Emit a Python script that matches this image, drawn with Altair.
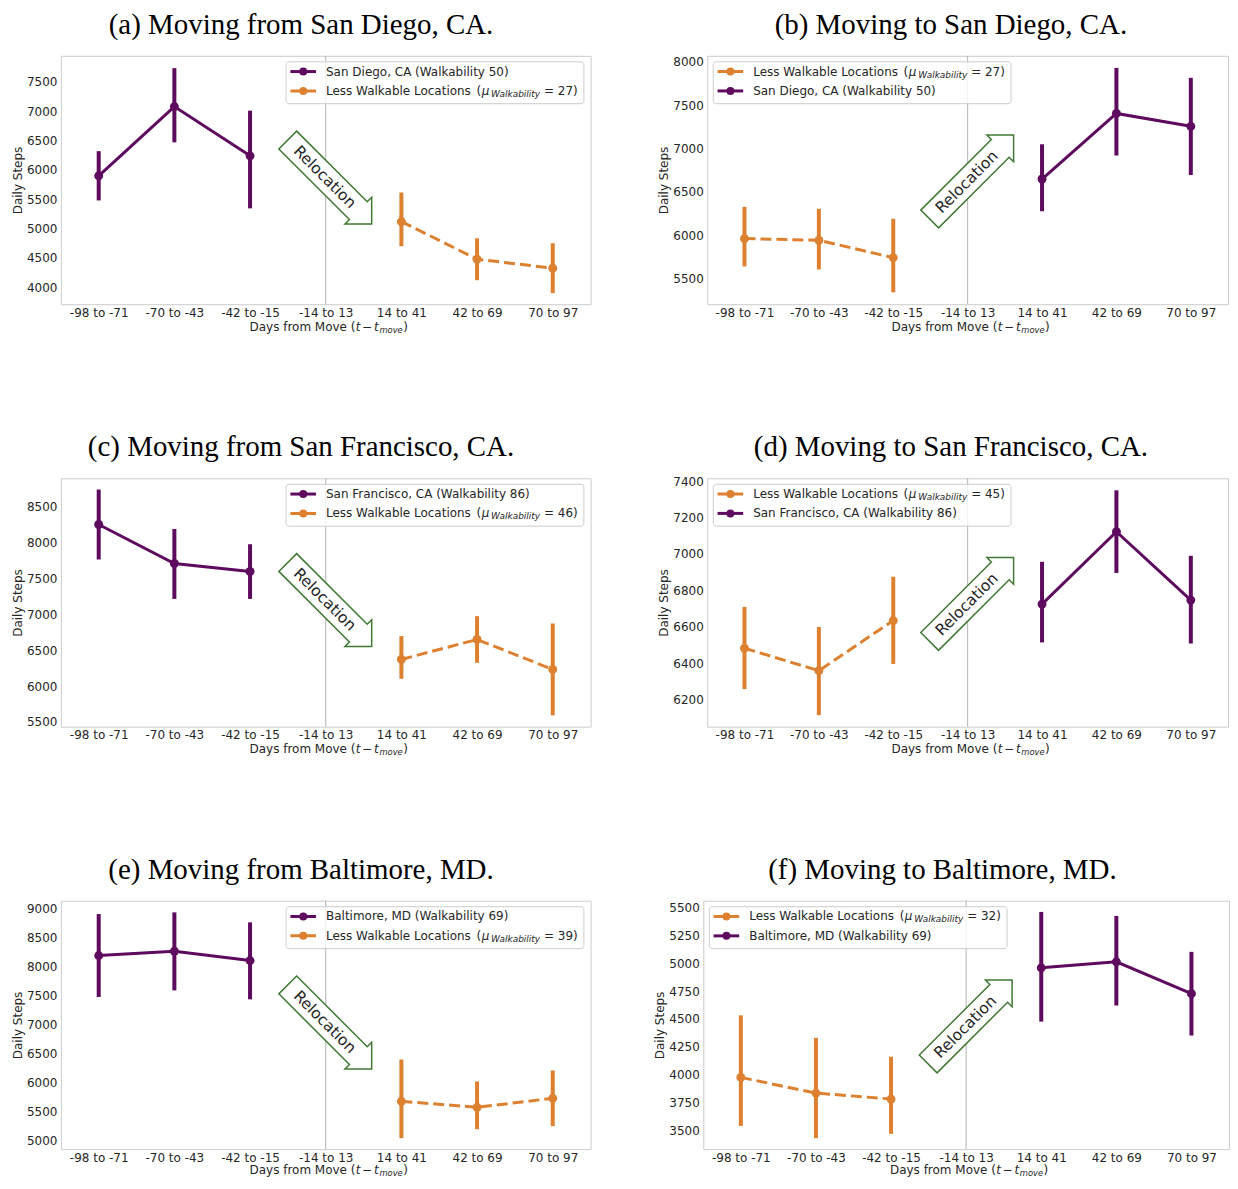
import altair as alt
import pandas as pd

CATS = ["-98 to -71", "-70 to -43", "-42 to -15", "-14 to 13", "14 to 41", "42 to 69", "70 to 97"]
BEFORE = CATS[:3]
AFTER = CATS[4:]

TITLES = [
    "(a) Moving from San Diego, CA.",
    "(b) Moving to San Diego, CA.",
    "(c) Moving from San Francisco, CA.",
    "(d) Moving to San Francisco, CA.",
    "(e) Moving from Baltimore, MD.",
    "(f) Moving to Baltimore, MD.",
]
CITY_LABELS = [
    "San Diego, CA (Walkability 50)",
    "San Francisco, CA (Walkability 86)",
    "Baltimore, MD (Walkability 69)",
]
MU = [27, 27, 46, 45, 39, 32]

# (a) from San Diego
A_CITY_MEAN = [5900, 7080, 6240]
A_CITY_LO = [5480, 6470, 5345]
A_CITY_HI = [6320, 7735, 7010]
A_LESS_MEAN = [5120, 4478, 4325]
A_LESS_LO = [4700, 4120, 3900]
A_LESS_HI = [5615, 4834, 4750]
# (b) to San Diego
B_LESS_MEAN = [5960, 5940, 5740]
B_LESS_LO = [5638, 5603, 5339]
B_LESS_HI = [6326, 6303, 6188]
B_CITY_MEAN = [6647, 7404, 7255]
B_CITY_LO = [6275, 6918, 6693]
B_CITY_HI = [7048, 7930, 7815]
# (c) from San Francisco
C_CITY_MEAN = [8255, 7711, 7599]
C_CITY_LO = [7767, 7217, 7217]
C_CITY_HI = [8743, 8193, 7980]
C_LESS_MEAN = [6372, 6651, 6233]
C_LESS_LO = [6102, 6325, 5592]
C_LESS_HI = [6698, 6976, 6874]
# (d) to San Francisco
D_LESS_MEAN = [6483, 6360, 6635]
D_LESS_LO = [6259, 6116, 6397]
D_LESS_HI = [6710, 6600, 6875]
D_CITY_MEAN = [6725, 7122, 6747]
D_CITY_LO = [6515, 6896, 6509]
D_CITY_HI = [6957, 7349, 6990]
# (e) from Baltimore
E_CITY_MEAN = [8183, 8257, 8097]
E_CITY_LO = [7469, 7583, 7429]
E_CITY_HI = [8897, 8926, 8754]
E_LESS_MEAN = [5674, 5571, 5726]
E_LESS_LO = [5040, 5194, 5246]
E_LESS_HI = [6394, 6017, 6206]
# (f) to Baltimore
F_LESS_MEAN = [3976, 3835, 3782]
F_LESS_LO = [3541, 3431, 3470]
F_LESS_HI = [4532, 4330, 4161]
F_CITY_MEAN = [4958, 5012, 4726]
F_CITY_LO = [4476, 4620, 4351]
F_CITY_HI = [5459, 5423, 5101]

Y_DOMAINS = [[3711, 7945], [5202, 8069], [5434, 8900], [6053, 7415], [4851, 9126], [3333, 5559]]
Y_TICKS = [
    [4000, 4500, 5000, 5500, 6000, 6500, 7000, 7500],
    [5500, 6000, 6500, 7000, 7500, 8000],
    [5500, 6000, 6500, 7000, 7500, 8000, 8500],
    [6200, 6400, 6600, 6800, 7000, 7200, 7400],
    [5000, 5500, 6000, 6500, 7000, 7500, 8000, 8500, 9000],
    [3500, 3750, 4000, 4250, 4500, 4750, 5000, 5250, 5500],
]

PURPLE = "#5e0a5e"
ORANGE = "#dd8030"
GREEN = "#3f7a32"
TXT = "#262626"
FONT = "DejaVu Sans"
ARROW_PATH = "M -1 -0.212 L 0.682 -0.212 L 0.682 -0.318 L 1 0 L 0.682 0.318 L 0.682 0.212 L -1 0.212 Z"
DUMMY = pd.DataFrame({"d": [0]})


def txt(x, y, text, size=12, style="normal", align="left", baseline="alphabetic", dy=0):
    return alt.Chart(DUMMY).mark_text(
        text=text, font=FONT, fontSize=size, fontStyle=style, color=TXT,
        align=align, baseline=baseline, dy=dy,
    ).encode(x=alt.value(x), y=alt.value(y))


def panel(idx, direction, city_label, city, less, W, H, title_dx=0, xt_gap=26.5):
    mu = MU[idx]
    ydom = Y_DOMAINS[idx]
    city_x = BEFORE if direction == "from" else AFTER
    less_x = AFTER if direction == "from" else BEFORE
    dcity = pd.DataFrame({"cat": city_x, "i": [0, 1, 2], "mean": city[0], "lo": city[1], "hi": city[2]})
    dless = pd.DataFrame({"cat": less_x, "i": [0, 1, 2], "mean": less[0], "lo": less[1], "hi": less[2]})

    X = alt.X("cat:N", scale=alt.Scale(type="point", domain=CATS, padding=0.5),
              axis=alt.Axis(title=None, labelAngle=0, labelPadding=3))
    ysc = alt.Scale(domain=ydom, nice=False, zero=False)
    yax = alt.Axis(values=Y_TICKS[idx], format="d", title="Daily Steps", labelPadding=4, titlePadding=2)

    layers = []
    # invisible spacer so every panel has the same top bound
    layers.append(alt.Chart(DUMMY).mark_rule(opacity=0).encode(
        x=alt.value(0), x2=alt.value(10), y=alt.value(-4)))
    layers.append(alt.Chart(pd.DataFrame({"cat": [CATS[3]]})).mark_rule(
        color="#b3b3b3", strokeWidth=1).encode(x=X))
    for df, color, dash in [(dcity, PURPLE, None), (dless, ORANGE, [11, 5])]:
        base = alt.Chart(df)
        layers.append(base.mark_rule(color=color, strokeWidth=4).encode(
            x=X, y=alt.Y("lo:Q", scale=ysc, axis=yax), y2="hi:Q"))
        lk = dict(color=color, strokeWidth=3)
        if dash:
            lk["strokeDash"] = dash
        layers.append(base.mark_line(**lk).encode(
            x=X, y=alt.Y("mean:Q", scale=ysc, axis=yax), order="i:Q"))
        layers.append(base.mark_point(filled=True, size=80, color=color, opacity=1).encode(
            x=X, y=alt.Y("mean:Q", scale=ysc, axis=yax)))

    # relocation arrow
    ang = 45 if direction == "from" else 315
    frac = 0.508 if direction == "from" else 0.488
    adf = pd.DataFrame({"cat": [CATS[3]]})
    layers.append(alt.Chart(adf).mark_point(
        shape=ARROW_PATH, size=14161, angle=ang, filled=True, fill="white", fillOpacity=1,
        stroke=GREEN, strokeWidth=1.5, opacity=1, xOffset=4).encode(x=X, y=alt.value(H * frac)))
    layers.append(alt.Chart(adf).mark_text(
        text="Relocation", angle=ang, dx=-7, fontSize=15.5, font=FONT, color=TXT,
        align="center", baseline="middle", xOffset=4).encode(x=X, y=alt.value(H * frac)))

    # legend
    bw, bh = 298.5, 42
    bx = W - 6.7 - bw if direction == "from" else 6
    by = 6
    layers.append(alt.Chart(DUMMY).mark_rect(
        fill="white", fillOpacity=0.8, stroke="#cccccc", strokeWidth=1, cornerRadius=3).encode(
        x=alt.value(bx), x2=alt.value(bx + bw), y=alt.value(by), y2=alt.value(by + bh)))
    rows = [("city", PURPLE, None), ("less", ORANGE, [11, 5])]
    if direction == "to":
        rows = rows[::-1]
    for r, (kind, color, dash) in enumerate(rows):
        ry = by + 9.8 + r * 19.4
        rk = dict(color=color, strokeWidth=3)
        if dash:
            rk["strokeDash"] = dash
        layers.append(alt.Chart(DUMMY).mark_rule(**rk).encode(
            x=alt.value(bx + 4.3), x2=alt.value(bx + 30), y=alt.value(ry)))
        layers.append(alt.Chart(DUMMY).mark_point(filled=True, size=64, color=color, opacity=1).encode(
            x=alt.value(bx + 17.2), y=alt.value(ry)))
        tx = bx + 40
        if kind == "city":
            layers.append(txt(tx, ry, city_label, baseline="middle"))
        else:
            layers.append(txt(tx, ry, "Less Walkable Locations", baseline="middle"))
            layers.append(txt(tx + 155.5, ry, "(", align="right", baseline="middle"))
            layers.append(txt(tx + 156, ry, "\u03bc", style="italic", baseline="middle"))
            layers.append(txt(tx + 165.5, ry, "Walkability", size=9, style="italic", baseline="middle", dy=3))
            layers.append(txt(tx + 218.5, ry, f"= {mu})", baseline="middle"))

    # x-axis title with math-style subscript
    s = W / 2 - 82.4
    ty = H + xt_gap
    layers.append(txt(s + 112.2, ty, "Days from Move (", align="right"))
    layers.append(txt(s + 112.6, ty, "t", style="italic"))
    layers.append(txt(s + 123.9, ty, "\u2212", align="center"))
    layers.append(txt(s + 130.9, ty, "t", style="italic"))
    layers.append(txt(s + 136.2, ty, "move", size=8.4, style="italic", dy=2.3))
    layers.append(txt(s + 160, ty, ")"))

    return alt.layer(*layers).properties(
        width=W, height=H,
        title=alt.TitleParams(TITLES[idx], dx=title_dx),
    )


W1, W2, W3, H = 531, 522, 527, 249

pa = panel(0, "from", CITY_LABELS[0], (A_CITY_MEAN, A_CITY_LO, A_CITY_HI), (A_LESS_MEAN, A_LESS_LO, A_LESS_HI), W1, H)
pb = panel(1, "to", CITY_LABELS[0], (B_CITY_MEAN, B_CITY_LO, B_CITY_HI), (B_LESS_MEAN, B_LESS_LO, B_LESS_HI), W2, H, 8)
pc = panel(2, "from", CITY_LABELS[1], (C_CITY_MEAN, C_CITY_LO, C_CITY_HI), (C_LESS_MEAN, C_LESS_LO, C_LESS_HI), W1, H)
pd_ = panel(3, "to", CITY_LABELS[1], (D_CITY_MEAN, D_CITY_LO, D_CITY_HI), (D_LESS_MEAN, D_LESS_LO, D_LESS_HI), W2, H, 8)
pe = panel(4, "from", CITY_LABELS[2], (E_CITY_MEAN, E_CITY_LO, E_CITY_HI), (E_LESS_MEAN, E_LESS_LO, E_LESS_HI), W1, H, 0, 24.5)
pf = panel(5, "to", CITY_LABELS[2], (F_CITY_MEAN, F_CITY_LO, F_CITY_HI), (F_LESS_MEAN, F_LESS_LO, F_LESS_HI), W3, H, 1, 24.5)

row1 = alt.hconcat(pa, pb, spacing=65)
row2 = alt.hconcat(pc, pd_, spacing=65)
row3 = alt.hconcat(pe, pf, spacing=61)

chart = alt.vconcat(row1, row2, row3, spacing=97.5).properties(
    padding={"left": 2, "top": 0.5, "right": 0, "bottom": 0}
).configure_view(
    stroke="#cccccc", strokeWidth=1
).configure_axis(
    domain=False, ticks=False, grid=False,
    labelFont=FONT, labelFontSize=12, labelColor=TXT,
    titleFont=FONT, titleFontSize=12, titleFontWeight="normal", titleColor=TXT,
).configure_title(
    font="Liberation Serif", fontSize=29, fontWeight="normal", color="black",
    anchor="middle", frame="bounds", baseline="alphabetic", offset=12,
)

chart.save("out.html", embed_options={"renderer": "svg", "actions": False})
